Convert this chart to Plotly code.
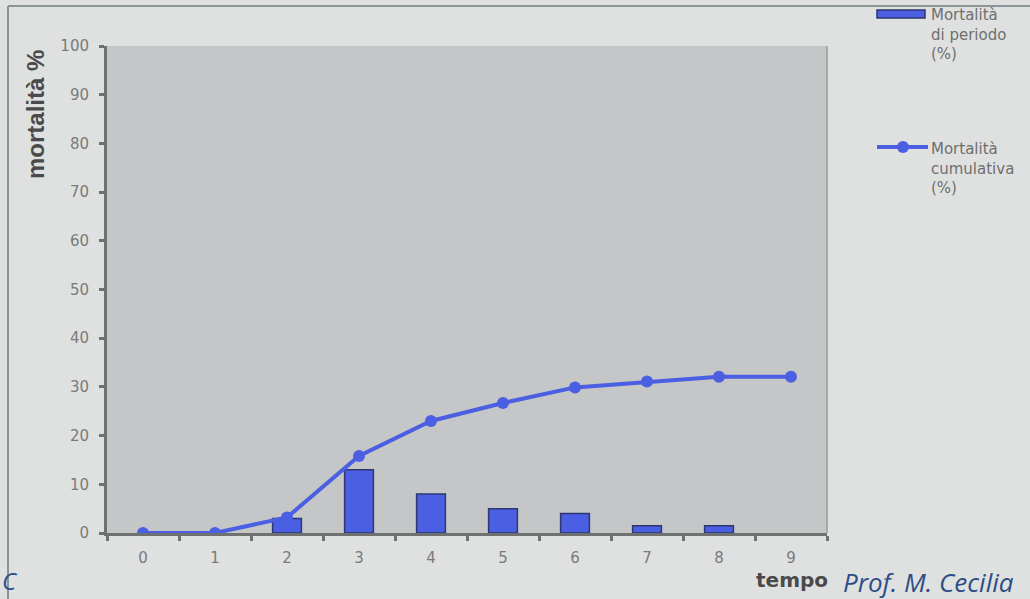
import plotly.graph_objects as go

# --- data ---------------------------------------------------------------
tempo = ["0", "1", "2", "3", "4", "5", "6", "7", "8", "9"]
mortalita_periodo = [0, 0, 3, 13, 8, 5, 4, 1.5, 1.5, 0]
mortalita_cumulativa = [0, 0, 3.2, 15.8, 23, 26.7, 29.9, 31.1, 32.1, 32.1]
y_ticks = [0, 10, 20, 30, 40, 50, 60, 70, 80, 90, 100]

# --- page geometry (pixels) --------------------------------------------
W, H = 1030, 599
L, R, T, B = 107, 827, 46, 533  # plot-area edges


def px(x):
    return (x - L) / (R - L)


def py(y):
    return (B - y) / (B - T)


BLUE = "#4a5fe2"
EDGE = "#2f3670"
AXIS = "#6f7070"
TICKTXT = "#7a7a7a"
SANS = "DejaVu Sans, Verdana"

fig = go.Figure()

# empty bars get no outline
bar_edges = [1.5 if v > 0 else 0 for v in mortalita_periodo]

fig.add_trace(go.Bar(
    x=tempo, y=mortalita_periodo, width=0.4,
    marker=dict(color=BLUE, line=dict(color=EDGE, width=bar_edges)),
    showlegend=False, hoverinfo="x+y",
))
fig.add_trace(go.Scatter(
    x=tempo, y=mortalita_cumulativa, mode="lines+markers",
    line=dict(color=BLUE, width=4),
    marker=dict(color=BLUE, size=12),
    showlegend=False,
))

shapes = [
    # slide frame
    dict(type="line", xref="paper", yref="paper",
         x0=px(8), x1=px(W + 5), y0=py(6), y1=py(6),
         line=dict(color="#8a9598", width=2)),
    dict(type="line", xref="paper", yref="paper",
         x0=px(8), x1=px(8), y0=py(6), y1=py(H + 5),
         line=dict(color="#8a9598", width=2)),
    # plot-area right edge
    dict(type="line", xref="paper", yref="paper",
         x0=1, x1=1, y0=0, y1=1, line=dict(color="#9a9b9c", width=1.5)),
    # legend keys
    dict(type="rect", xref="paper", yref="paper",
         x0=px(877), x1=px(925), y0=py(18), y1=py(10),
         fillcolor=BLUE, line=dict(color=EDGE, width=1.5)),
    dict(type="line", xref="paper", yref="paper",
         x0=px(877), x1=px(928), y0=py(147), y1=py(147),
         line=dict(color=BLUE, width=4)),
    dict(type="circle", xref="paper", yref="paper",
         x0=px(897), x1=px(909), y0=py(153), y1=py(141),
         fillcolor=BLUE, line=dict(color=BLUE, width=0)),
]

annotations = [
    dict(text="Mortalità<br>di periodo<br>(%)", x=px(929), y=py(4),
         xref="paper", yref="paper", xanchor="left", yanchor="top",
         align="left", showarrow=False,
         font=dict(family=SANS, size=15, color="#6f6f6f")),
    dict(text="Mortalità<br>cumulativa<br>(%)", x=px(929), y=py(138),
         xref="paper", yref="paper", xanchor="left", yanchor="top",
         align="left", showarrow=False,
         font=dict(family=SANS, size=15, color="#6f6f6f")),
    dict(text="<b>mortalità %</b>", x=px(35), y=py(115), textangle=-90,
         xref="paper", yref="paper", xanchor="center", yanchor="middle",
         showarrow=False,
         font=dict(family="Liberation Sans, Arial", size=24, color="#4a4a4a")),
    dict(text="<b>tempo</b>", x=px(792), y=py(580),
         xref="paper", yref="paper", xanchor="center", yanchor="middle",
         showarrow=False,
         font=dict(family=SANS, size=20, color="#4a4a4a")),
    dict(text="<i>Prof. M. Cecilia</i>", x=px(841), y=py(582),
         xref="paper", yref="paper", xanchor="left", yanchor="middle",
         showarrow=False,
         font=dict(family="Open Sans, Noto Sans", size=26, color="#2e4d86")),
    dict(text="<i>C</i>", x=px(0), y=py(580),
         xref="paper", yref="paper", xanchor="left", yanchor="middle",
         showarrow=False,
         font=dict(family="Open Sans, Noto Sans", size=24, color="#2e4d86")),
]

fig.update_layout(
    width=W, height=H,
    margin=dict(l=L, r=W - R, t=T, b=H - B),
    paper_bgcolor="#dfe1e1",
    plot_bgcolor="#c5c6c7",
    shapes=shapes,
    annotations=annotations,
    font=dict(family=SANS),
)

fig.update_xaxes(
    type="category", categoryorder="array", categoryarray=tempo,
    range=[-0.5, 9.5], tickson="boundaries",
    showline=True, linecolor=AXIS, linewidth=3,
    ticks="outside", ticklen=5, tickwidth=3, tickcolor=AXIS,
    ticklabelstandoff=9,
    tickfont=dict(family=SANS, size=15, color=TICKTXT),
    showgrid=False, zeroline=False,
)
fig.update_yaxes(
    range=[0, 100], tickvals=y_ticks,
    showline=True, linecolor=AXIS, linewidth=3,
    ticks="outside", ticklen=5, tickwidth=3, tickcolor=AXIS,
    ticklabelstandoff=7,
    tickfont=dict(family=SANS, size=15, color=TICKTXT),
    showgrid=False, zeroline=False,
)

fig.write_html("out.html")
